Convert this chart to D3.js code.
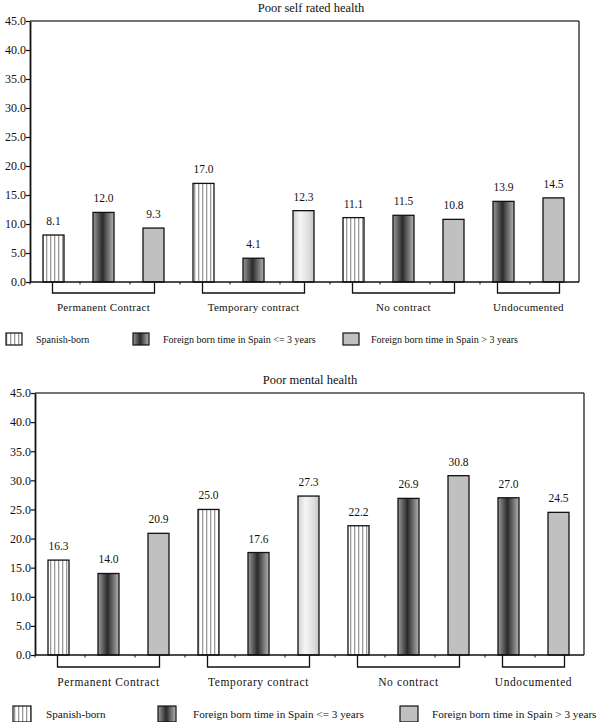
<!DOCTYPE html>
<html><head><meta charset="utf-8">
<script src="https://cdn.jsdelivr.net/npm/d3@7"></script>
<style>body{margin:0;background:#fff}svg{display:block}svg text{font-family:'Liberation Serif',serif !important;fill:#111}</style>
</head><body>
<svg id="c" width="602" height="722" font-family="Liberation Serif, serif"></svg>
<script>
const categories = ["Permanent Contract","Temporary contract","No contract","Undocumented"];
const seriesNames = ["Spanish-born","Foreign born time in Spain <= 3 years","Foreign born time in Spain > 3 years"];
// values per category: [Spanish-born, Foreign <=3, Foreign >3]; null = not shown
const selfRated = [[8.1,12.0,9.3],[17.0,4.1,12.3],[11.1,11.5,10.8],[null,13.9,14.5]];
const mentalHealth = [[16.3,14.0,20.9],[25.0,17.6,27.3],[22.2,26.9,30.8],[null,27.0,24.5]];
const yTicks = [0,5,10,15,20,25,30,35,40,45];
const titles = ["Poor self rated health","Poor mental health"];

const svg = d3.select("#c");
const defs = svg.append("defs");
const pat = defs.append("pattern").attr("id","stripes").attr("patternUnits","userSpaceOnUse").attr("width",4).attr("height",10);
pat.append("rect").attr("width",4).attr("height",10).attr("fill","#fff");
pat.append("rect").attr("x",2).attr("width",1.3).attr("height",10).attr("fill","#9a9a9a");
const g1 = defs.append("linearGradient").attr("id","dark").attr("x1","0").attr("x2","1").attr("y1","0").attr("y2","0");
[[0,"#9a9a9a"],[0.45,"#2a2a2a"],[1,"#b4b4b4"]].forEach(s=>g1.append("stop").attr("offset",s[0]).attr("stop-color",s[1]));
const g2 = defs.append("linearGradient").attr("id","light").attr("x1","0").attr("x2","1").attr("y1","0").attr("y2","0");
[[0,"#d0d0d0"],[0.35,"#f6f6f6"],[0.75,"#dedede"],[1,"#c4c4c4"]].forEach(s=>g2.append("stop").attr("offset",s[0]).attr("stop-color",s[1]));

function fillFor(cat, s){
  if (s===0) return "url(#stripes)";
  if (s===1) return "url(#dark)";
  if (cat===1) return "url(#light)";
  return "#c0c0c0";
}

function drawChart(values, o){
  const g = svg.append("g");
  const bars = [];
  values.forEach((arr,ci)=>arr.forEach((v,si)=>{ if(v!==null) bars.push({ci,si,v}); }));
  bars.forEach((b,i)=>b.slot=i);
  const x = d3.scaleBand().domain(d3.range(bars.length)).range([o.L, o.L+550]).padding(0);
  const y = d3.scaleLinear().domain([0,45]).range([o.B, o.T]);
  const bw = 21, off = 13;

  g.append("text").attr("x",o.titleX).attr("y",o.titleY).attr("text-anchor","middle").style("font-size","12.5px").text(o.title);

  g.append("line").attr("x1",o.L).attr("x2",o.R).attr("y1",o.T).attr("y2",o.T).attr("stroke","#444").attr("stroke-width",1.6);
  g.append("line").attr("x1",o.R).attr("x2",o.R).attr("y1",o.T).attr("y2",o.B).attr("stroke","#222").attr("stroke-width",1.3);

  const ya = g.append("g").attr("transform",`translate(${o.L},0)`)
    .call(d3.axisLeft(y).tickValues(yTicks).tickFormat(d3.format(".1f")).tickSize(4).tickSizeOuter(0));
  ya.attr("font-family",null);
  ya.select(".domain").attr("stroke","#111").attr("stroke-width",1.8);
  ya.selectAll(".tick line").attr("stroke","#111").attr("stroke-width",1.2);
  ya.selectAll(".tick text").attr("x",-4).style("font-size","12px").attr("fill","#111");

  g.selectAll("rect.bar").data(bars).enter().append("rect").attr("class","bar")
    .attr("x",d=>x(d.slot)+off).attr("width",bw)
    .attr("y",d=>y(d.v)).attr("height",d=>y(0)-y(d.v))
    .attr("fill",d=>fillFor(d.ci,d.si)).attr("stroke","#111").attr("stroke-width",1.3);
  g.selectAll("text.val").data(bars).enter().append("text").attr("class","val")
    .attr("x",d=>x(d.slot)+off+bw/2).attr("y",d=>y(d.v)-10)
    .attr("text-anchor","middle").style("font-size","11.5px").text(d=>d.v.toFixed(1));

  g.append("line").attr("x1",o.L).attr("x2",o.R).attr("y1",o.B).attr("y2",o.B).attr("stroke","#111").attr("stroke-width",1.4);
  g.selectAll("line.xt").data(d3.range(bars.length)).enter().append("line").attr("class","xt")
    .attr("x1",d=>x(d)).attr("x2",d=>x(d)).attr("y1",o.B).attr("y2",o.B+2.5).attr("stroke","#111").attr("stroke-width",1);

  categories.forEach((c,ci)=>{
    const gb = bars.filter(b=>b.ci===ci);
    const pad = gb.length<3 ? 5 : 0;
    const x0 = x(gb[0].slot)+off+bw/2-1-pad, x1 = x(gb[gb.length-1].slot)+off+bw/2+1+pad;
    const yb = o.B + o.bh;
    g.append("path").attr("d",`M${x0},${o.B}V${yb}H${x1}V${o.B}`).attr("fill","none").attr("stroke","#111").attr("stroke-width",1.3);
    g.append("text").attr("x",(x0+x1)/2).attr("y",o.labY).attr("text-anchor","middle").style("font-size",o.labFs+"px").style("letter-spacing",o.ls+"px").text(c);
  });

  seriesNames.forEach((s,si)=>{
    const lx = o.leg[si];
    g.append("rect").attr("x",lx[0]).attr("y",o.legY).attr("width",o.sw).attr("height",o.sh)
      .attr("fill",fillFor(-1,si)).attr("stroke","#111").attr("stroke-width",1.2);
    g.append("text").attr("x",lx[1]).attr("y",o.legTextY).style("font-size",o.legFs+"px").text(s);
  });
}

drawChart(selfRated, {L:30,R:579,T:21,B:282,title:titles[0],titleX:311,titleY:12,bh:11,labY:311,labFs:11,ls:0.3,
  leg:[[6,36],[133,163],[343,371]],legY:333,sw:16,sh:12,legTextY:343,legFs:10});
drawChart(mentalHealth, {L:35,R:584,T:393,B:655,title:titles[1],titleX:310,titleY:384,bh:12,labY:686,labFs:11.5,ls:0.6,
  leg:[[13,46],[158,193],[400,432]],legY:706,sw:18,sh:16,legTextY:718,legFs:11.2});
</script>
</body></html>
